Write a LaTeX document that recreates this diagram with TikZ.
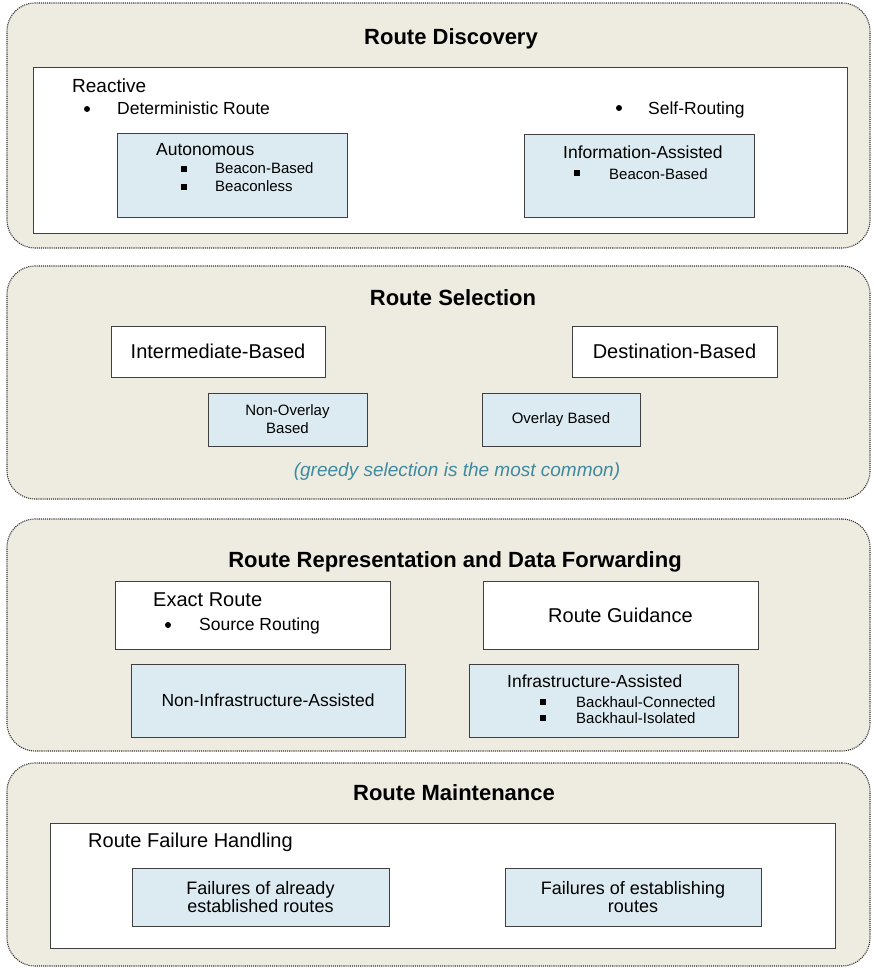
\documentclass[tikz,border=0pt]{standalone}
\usepackage{fontspec}
\setmainfont{Liberation Sans}
\definecolor{panelbg}{HTML}{EEEBE0}
\definecolor{boxblue}{HTML}{DCEBF1}
\definecolor{noteteal}{HTML}{3E8AA0}
\tikzset{
  panel/.style={draw=black!80, dash pattern=on 1.1pt off 1pt, line width=1.1pt, fill=panelbg,
    rounded corners=28pt, minimum width=863pt, inner sep=0pt},
  whitebox/.style={draw=black!75, line width=0.7pt, fill=white, inner sep=0pt, align=center},
  bluebox/.style={draw=black!75, line width=0.7pt, fill=boxblue, inner sep=0pt, align=center},
  paneltitle/.style={font=\fontsize{22}{26}\selectfont\bfseries, anchor=base},
  biglabel/.style={font=\fontsize{20}{24}\selectfont},
  midlabel/.style={font=\fontsize{17.5}{18}\selectfont},
  smalllabel/.style={font=\fontsize{15}{18}\selectfont},
  leftlabel/.style={anchor=base west, inner sep=0pt},
  bulletdot/.style={circle, fill=black, inner sep=0pt, minimum size=6pt},
  bulletsq/.style={rectangle, fill=black, inner sep=0pt, minimum size=5.5pt}
}
\begin{document}
\begin{tikzpicture}[x=1pt, y=-1pt]
    \useasboundingbox (0,0) rectangle (873,968);

    \node[panel, minimum height=245pt] (discovery) at (438.5,125.5) {};
    \node[paneltitle] (discoverytitle) at (451,45) {Route Discovery};
    \node[whitebox, minimum width=814pt, minimum height=166pt] (reactivebox) at (440,150) {};
    \node[leftlabel, font=\fontsize{19}{22}\selectfont] (reactive) at (72,93) {Reactive};
    \node[bulletdot] (dotdet) at (87,109) {};
    \node[leftlabel, midlabel] (deterministic) at (117,115) {Deterministic Route};
    \node[bulletdot] (dotself) at (619,108) {};
    \node[leftlabel, midlabel] (selfrouting) at (648,115) {Self-Routing};
    \node[bluebox, minimum width=230pt, minimum height=84pt] (autobox) at (232,175) {};
    \node[leftlabel, midlabel] (autonomous) at (156,156) {Autonomous};
    \node[bulletsq] (sqbeacon) at (184,169) {};
    \node[leftlabel, smalllabel] (beaconbased) at (215,174) {Beacon-Based};
    \node[bulletsq] (sqbeaconless) at (184,187) {};
    \node[leftlabel, smalllabel] (beaconless) at (215,192) {Beaconless};
    \node[bluebox, minimum width=230pt, minimum height=83pt] (infobox) at (639,175.5) {};
    \node[leftlabel, midlabel] (infoassisted) at (563,159) {Information-Assisted};
    \node[bulletsq] (sqinfo) at (577,173) {};
    \node[leftlabel, smalllabel] (infobeacon) at (609,180) {Beacon-Based};

    \node[panel, minimum height=233pt] (selection) at (438.5,382.5) {};
    \node[paneltitle] (selectiontitle) at (453,305) {Route Selection};
    \node[whitebox, biglabel, minimum width=214pt, minimum height=51pt] (intermediate) at (218,351.5) {Intermediate-Based};
    \node[whitebox, biglabel, minimum width=205pt, minimum height=51pt] (destination) at (674.5,351.5) {Destination-Based};
    \node[bluebox, smalllabel, minimum width=159pt, minimum height=53pt] (nonoverlay) at (287.5,419.5) {Non-Overlay\\Based};
    \node[bluebox, smalllabel, minimum width=158pt, minimum height=53pt] (overlay) at (561,419.5) {Overlay Based};
    \node[font=\fontsize{19}{22}\selectfont\itshape, text=noteteal] (greedy) at (457,472) {(greedy selection is the most common)};

    \node[panel, minimum height=232pt] (representation) at (438.5,635) {};
    \node[paneltitle] (representationtitle) at (455,567) {Route Representation and Data Forwarding};
    \node[whitebox, minimum width=275pt, minimum height=68pt] (exactbox) at (252.5,615) {};
    \node[leftlabel, biglabel] (exact) at (153,606) {Exact Route};
    \node[bulletdot] (dotsource) at (168,625) {};
    \node[leftlabel, midlabel] (source) at (199,630) {Source Routing};
    \node[whitebox, biglabel, minimum width=275pt, minimum height=68pt] (guidance) at (620.5,615) {Route Guidance};
    \node[bluebox, midlabel, minimum width=274pt, minimum height=73pt] (noninfra) at (268,700.5) {Non-Infrastructure-Assisted};
    \node[bluebox, minimum width=269pt, minimum height=73pt] (infrabox) at (603.5,700.5) {};
    \node[leftlabel, midlabel] (infra) at (507,687) {Infrastructure-Assisted};
    \node[bulletsq] (sqconnected) at (543,702) {};
    \node[leftlabel, smalllabel] (connected) at (576,707) {Backhaul-Connected};
    \node[bulletsq] (sqisolated) at (543,718) {};
    \node[leftlabel, smalllabel] (isolated) at (576,723) {Backhaul-Isolated};

    \node[panel, minimum height=203pt] (maintenance) at (438.5,864.5) {};
    \node[paneltitle] (maintenancetitle) at (454,800) {Route Maintenance};
    \node[whitebox, minimum width=785pt, minimum height=125pt] (failbox) at (442.5,885.5) {};
    \node[leftlabel, biglabel] (failure) at (88,847) {Route Failure Handling};
    \node[bluebox, font=\fontsize{18}{18}\selectfont, minimum width=257pt, minimum height=58pt] (already) at (260.5,897) {Failures of already\\established routes};
    \node[bluebox, font=\fontsize{18}{18}\selectfont, minimum width=256pt, minimum height=58pt] (establishing) at (633,897) {Failures of establishing\\routes};
\end{tikzpicture}
\end{document}
